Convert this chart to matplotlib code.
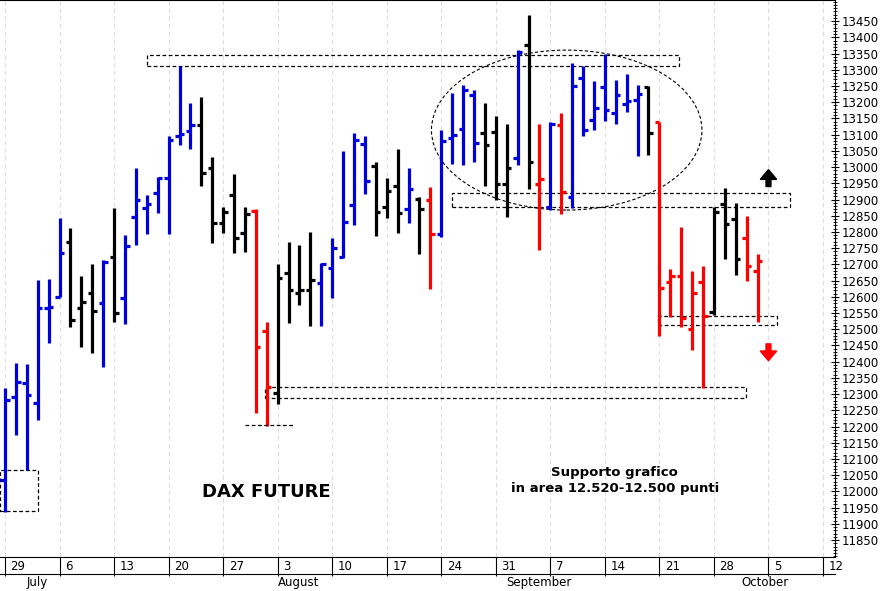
import matplotlib
matplotlib.use("Agg")
import matplotlib.pyplot as plt
from matplotlib.patches import Ellipse, Rectangle, FancyArrow
import matplotlib.transforms as mt

opens  = [12035,12291,12334,12273,12565,12599,12769,12565,12612,12581,12723,12596,12846,12875,12920,12966,13096,13111,13130,12997,
          12827,12914,12797,12865,12495,12303,12673,12612,12621,12643,12689,12723,12883,13071,13003,12877,12942,12871,12901,12898,
          12794,13090,13117,13222,13105,13108,12948,13028,13376,12948,12877,13130,12908,13275,13145,13247,13167,13194,13207,13247,
          13139,12646,12664,12501,12646,12553,12886,12840,12781,12680]
highs  = [12319,12396,12393,12652,12655,12843,12812,12664,12701,12713,12874,12790,12997,12914,12969,13096,13312,13197,13216,13031,
          12877,12979,12877,12871,12522,12701,12769,12760,12800,12704,12781,13049,13105,13096,13016,12966,13056,12997,12908,12938,
          13114,13228,13253,13238,13197,13157,13133,13361,13469,13133,13139,13167,13321,13312,13265,13349,13268,13287,13253,13250,
          13139,12686,12815,12680,12695,12877,12935,12889,12849,12732]
lows   = [11937,12174,12066,12220,12458,12599,12507,12445,12427,12384,12522,12516,12760,12794,12858,12794,13068,13056,12942,12766,
          12797,12735,12738,12242,12202,12270,12519,12575,12510,12510,12596,12720,12821,12917,12787,12843,12797,12828,12732,12624,
          12784,13009,13006,13016,12942,12898,12846,13006,12932,12744,12868,12855,12874,13096,13114,13142,13133,13170,13034,13037,
          12479,12538,12507,12436,12319,12544,12717,12667,12649,12522]
closes = [12282,12337,12297,12565,12568,12735,12528,12584,12556,12707,12550,12757,12898,12885,12966,13083,13102,13130,12982,12827,
          12861,12781,12855,12445,12322,12658,12621,12621,12652,12701,12750,12831,13083,12957,12861,12926,12858,12932,12871,12794,
          13080,13099,13238,13074,13068,12948,12997,13355,13016,12963,13133,12923,13250,13114,13182,13176,13222,13204,13225,13105,
          12627,12664,12535,12612,12541,12861,12824,12717,12695,12710]
colors = list("BBBBBBKKKBKBBBBBBBKKKKKRRKKKKBBBBBKKKBKRBBBBKKKBKRBRBBBBBBBKRRRRRKKKRR")
cmap = {"B": "#0000dd", "K": "black", "R": "#ff0000"}

week_ticks = [0,5,10,15,20,25,30,35,40,45,50,55,60,65,70,75]
week_labels = ["29","6","13","20","27","3","10","17","24","31","7","14","21","28","5","12"]
months = ["July", "August", "September", "October"]
month_pos = [2, 25, 46, 67.5]

fig = plt.figure(figsize=(8.87, 5.91), dpi=100)
ax = fig.add_axes([0.0, 34/591, 835/887, 557/591])
ax.set_xlim(-0.46, 76.1)
ax.set_ylim(11798, 13515)

for x in week_ticks:
    ax.axvline(x, color="#dddddd", lw=0.8, ls=(0, (4, 3)), zorder=0)

for i, (o, h, l, c) in enumerate(zip(opens, highs, lows, closes)):
    col = cmap[colors[i]]
    ax.plot([i, i], [l, h], color=col, lw=2.3, solid_capstyle="butt")
    ax.plot([i - 0.42, i], [o, o], color=col, lw=2.3, solid_capstyle="butt")
    ax.plot([i, i + 0.42], [c, c], color=col, lw=2.3, solid_capstyle="butt")

def dbox(x0, x1, y0, y1):
    ax.add_patch(Rectangle((x0, y0), x1 - x0, y1 - y0, fill=False, ls=(0, (3, 2)), lw=0.9, ec="black"))

dbox(13.0, 61.8, 13311, 13345)
dbox(41.0, 72.0, 12878, 12920)
dbox(59.9, 70.8, 12512, 12542)
dbox(23.8, 67.9, 12287, 12322)
dbox(-0.5, 3.0, 11940, 12066)
ax.plot([22.0, 26.6], [12205, 12205], color="black", ls=(0, (3, 2)), lw=0.9)
ax.add_patch(Ellipse((51.5, 13114), 24.8, 493, fill=False, ls=(0, (3, 2)), lw=0.8, ec="black"))

ax.add_patch(FancyArrow(70, 12940, 0, 22, width=0.45, head_width=1.5, head_length=30, color="black"))
ax.add_patch(FancyArrow(70, 12455, 0, -22, width=0.45, head_width=1.5, head_length=30, color="#ff0000"))

ax.text(24, 11998, "DAX FUTURE", fontsize=13, fontweight="bold", ha="center", va="center")
ax.text(55.9, 12035, "Supporto grafico\nin area 12.520-12.500 punti", fontsize=9.5, fontweight="bold",
        ha="center", va="center", linespacing=1.3)

ax.yaxis.tick_right()
ax.set_yticks(range(11850, 13451, 50))
ax.set_yticks(range(11800, 13511, 10), minor=True)
ax.tick_params(axis="y", which="major", length=6, direction="inout", labelsize=8.5, pad=2)
ax.tick_params(axis="y", which="minor", length=3, direction="inout")
ax.set_xticks(week_ticks)
ax.set_xticklabels(week_labels, ha="left")
ax.tick_params(axis="x", length=14, direction="out", labelsize=8.5, pad=-12)
off = mt.ScaledTranslation(4/72, 0, fig.dpi_scale_trans)
for lbl in ax.get_xticklabels():
    lbl.set_transform(lbl.get_transform() + off)
ax.spines["left"].set_visible(False)

for m, p in zip(months, month_pos):
    ax.text(p, -0.045, m, transform=ax.get_xaxis_transform(), fontsize=8.5, ha="left", va="center", clip_on=False)
fig.add_artist(plt.Line2D([0, 835/887], [17/591, 17/591], color="black", lw=0.8))

fig.savefig("out.png", dpi=100)
